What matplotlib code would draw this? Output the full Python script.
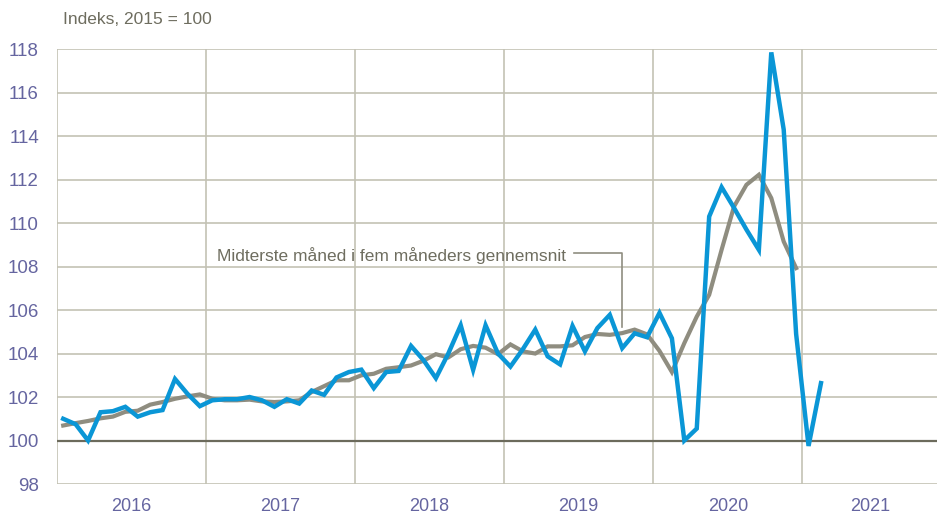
import matplotlib
matplotlib.use("Agg")
import matplotlib.pyplot as plt
import numpy as np

# Monthly index, Jan 2016 - Feb 2021
actual = [101.0, 100.75, 100.0, 101.3, 101.35, 101.55, 101.1, 101.3, 101.4, 102.83, 102.15, 101.58,
          101.85, 101.9, 101.9, 102.0, 101.85, 101.55, 101.9, 101.7, 102.3, 102.1, 102.9, 103.15,
          103.26, 102.41, 103.15, 103.2, 104.35, 103.7, 102.87, 104.0, 105.3, 103.25, 105.3, 104.0,
          103.4, 104.2, 105.1, 103.87, 103.5, 105.27, 104.1, 105.17, 105.78, 104.25, 104.93, 104.75,
          105.87, 104.7, 100.0, 100.55, 110.3, 111.65, 110.7, 109.7, 108.77, 117.85, 114.3, 104.9,
          99.75, 102.64]
# Middle month of five-month average, Jan 2016 - Dec 2020
avg5 = [100.69, 100.8, 100.9, 101.02, 101.1, 101.32, 101.37, 101.65, 101.77, 101.92, 102.03, 102.12,
        101.92, 101.85, 101.85, 101.88, 101.8, 101.77, 101.8, 101.85, 102.23, 102.5, 102.77, 102.77,
        103.0, 103.07, 103.3, 103.37, 103.45, 103.67, 103.97, 103.82, 104.2, 104.35, 104.27, 103.97,
        104.42, 104.1, 104.0, 104.33, 104.33, 104.38, 104.76, 104.9, 104.86, 104.94, 105.1, 104.88,
        104.12, 103.15, 104.48, 105.7, 106.7, 108.77, 110.76, 111.76, 112.22, 111.15, 109.15, 107.93]
years = ["2016", "2017", "2018", "2019", "2020", "2021"]
yticks = list(range(98, 119, 2))

BLUE = "#0a96d6"
GRAY = "#8f8d80"
GRID = "#c3c2b4"
DARK = "#6c6b5c"
TICK = "#6565a0"
TXT = "#6e6d5f"

plt.rcParams['font.family'] = ['Liberation Sans', 'DejaVu Sans']

fig = plt.figure(figsize=(9.39, 5.17), dpi=100)
ax = fig.add_axes([0.0607, 0.0638, 0.9373, 0.8412])

xmax = 70.85
xa = np.arange(len(actual)) + 0.5
xg = np.arange(len(avg5)) + 0.5

ax.set_xlim(0, xmax)
ax.set_ylim(98, 118)

for y in yticks:
    ax.axhline(y, color=GRID, lw=1.2, zorder=1)
for x in range(0, 61, 12):
    ax.axvline(x, color=GRID, lw=1.2, zorder=1)
ax.axhline(100, color=DARK, lw=1.6, zorder=2)

ax.plot(xa, actual, color=BLUE, lw=3.2, zorder=4, solid_joinstyle='miter')
ax.plot(xg, avg5, color=GRAY, lw=3.0, zorder=3, solid_joinstyle='miter')

for s in ax.spines.values():
    s.set_visible(False)

ax.set_yticks(yticks)
ax.set_yticklabels([str(v) for v in yticks])
ax.tick_params(axis='y', length=0, pad=13, labelsize=13.5, labelcolor=TICK)

centers = [6, 18, 30, 42, 54, (60 + xmax) / 2]
ax.set_xticks(centers)
ax.set_xticklabels(years)
ax.tick_params(axis='x', length=0, pad=10, labelsize=13, labelcolor=TICK)

fig.text(0.067, 0.962, "Indeks, 2015 = 100", fontsize=12.5, color=TXT, va='center', ha='left')

ax.text(12.9, 108.5, "Midterste måned i fem måneders gennemsnit", fontsize=12.5, color=TXT,
        ha='left', va='center', zorder=5)
ax.plot([41.6, 45.5, 45.5], [108.63, 108.63, 105.2], color=GRAY, lw=1.2, zorder=3)

fig.savefig("out.png", dpi=100)
